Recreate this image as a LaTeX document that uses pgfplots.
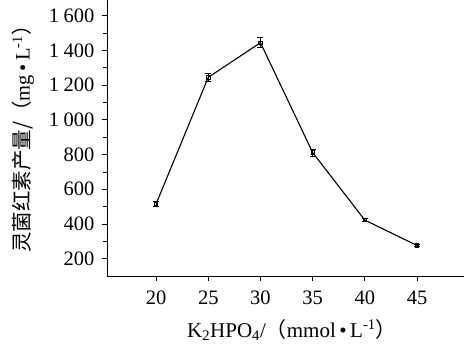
\documentclass[border=0pt]{standalone}
\usepackage{fontspec}
\setmainfont{Liberation Serif}
\newfontfamily\cjk{Noto Sans CJK SC}
\usepackage{pgfplots}
\pgfplotsset{compat=1.18}
\begin{document}
\begin{tikzpicture}
\begin{axis}[name=ax, scale only axis, width=357pt, height=276pt,
  xmin=15.3, xmax=49.5, ymin=100, ymax=1691,
  axis x line*=bottom, axis y line*=left, axis line style={-, line width=0.9pt},
  xtick={20,25,30,35,40,45}, ytick={200,400,...,1600}, minor y tick num=1,
  tick align=outside, major tick length=5pt, minor tick length=4pt,
  tick style={black, line width=0.8pt},
  /pgf/number format/assume math mode=true,
  /pgf/number format/1000 sep={\hspace{0.22em}},
  tick label style={font=\fontsize{20.5}{24}\selectfont},
  xticklabel style={yshift=-6pt},
  yticklabel style={xshift=-4pt},
  clip=false]
\addplot[black, line width=1.1pt, mark=square, mark size=1.7pt, mark options={solid, line width=0.7pt, fill=white},
  error bars/.cd, y dir=both, y explicit,
  error bar style={line width=0.8pt, black},
  error mark options={rotate=90, mark size=3pt, line width=0.8pt}]
coordinates {
 (20,515) +- (0,15)
 (25,1245) +- (0,25)
 (30,1445) +- (0,30)
 (35,812) +- (0,20)
 (40,422) +- (0,8)
 (45,276) +- (0,8)
};
\end{axis}
\path (ax.south west) ++(-84pt,142pt) node[rotate=90, font=\fontsize{20.5}{24}\selectfont]{\cjk 灵菌红素产量/（{\rmfamily mg\,•\,L\textsuperscript{-1}}）};
\path (ax.south west) ++(185pt,-54pt) node[font=\fontsize{21}{24}\selectfont]{K\textsubscript{2}HPO\textsubscript{4}/{\cjk （}mmol\,•\,L\textsuperscript{-1}{\cjk ）}};
\pgfresetboundingbox
\path (ax.south west) ++(-107pt,-83pt) rectangle (ax.north east);
\end{tikzpicture}
\end{document}
